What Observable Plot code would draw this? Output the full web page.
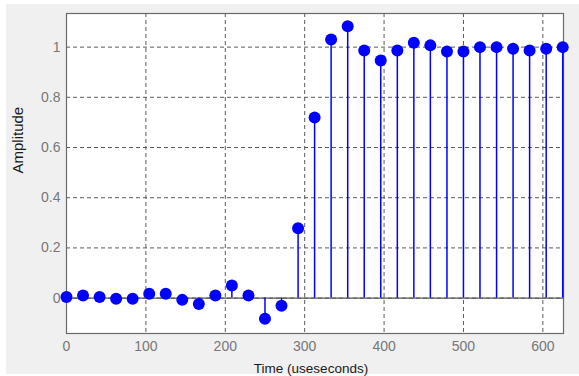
<!DOCTYPE html>
<html>
<head>
<meta charset="utf-8">
<script src="https://cdn.jsdelivr.net/npm/d3@7"></script>
<script src="https://cdn.jsdelivr.net/npm/@observablehq/plot@0.6"></script>
<style>
  html, body { margin: 0; padding: 0; background: #ffffff; }
  #wrap { position: relative; width: 579px; height: 376px; }
  #bg { position: absolute; left: 6px; top: 4px; right: 0px; bottom: 2px; background: #f0f0f0; }
  #chart { position: absolute; left: 0; top: 0; }
  #chart svg { background: transparent; font-family: "Liberation Sans", Arial, sans-serif; }
</style>
</head>
<body>
<div id="wrap"><div id="bg"></div><div id="chart"></div></div>
<script>
// Sample times (microseconds)
const times = [0, 20.8, 41.7, 62.5, 83.3, 104.2, 125, 145.8, 166.7, 187.5, 208.3,
  229.2, 250, 270.8, 291.7, 312.5, 333.3, 354.2, 375, 395.8, 416.7, 437.5,
  458.3, 479.2, 500, 520.8, 541.7, 562.5, 583.3, 604.2, 625];
// Amplitudes
const amplitudes = [0.004, 0.01, 0.004, -0.003, -0.003, 0.017, 0.017, -0.007, -0.023,
  0.01, 0.05, 0.01, -0.082, -0.03, 0.278, 0.72, 1.03, 1.083, 0.987, 0.947, 0.987,
  1.017, 1.007, 0.983, 0.983, 1.0, 1.0, 0.994, 0.987, 0.994, 1.0];
// Tick labels
const xTicks = [0, 100, 200, 300, 400, 500, 600];
const yTicks = [0, 0.2, 0.4, 0.6, 0.8, 1];
const xLabel = "Time (useseconds)";
const yLabel = "Amplitude";

const data = times.map((t, i) => ({t, a: amplitudes[i]}));

const chart = Plot.plot({
  width: 579,
  height: 376,
  marginLeft: 66,
  marginRight: 16,
  marginTop: 13,
  marginBottom: 43,
  style: {background: "transparent", fontFamily: "Liberation Sans, Arial, sans-serif"},
  x: {domain: [0, 626]},
  y: {domain: [-0.141, 1.134]},
  marks: [
    Plot.frame({fill: "white", stroke: null}),
    Plot.gridX(xTicks, {stroke: "#5a5a5a", strokeOpacity: 1, strokeDasharray: "4,3"}),
    Plot.gridY(yTicks, {stroke: "#5a5a5a", strokeOpacity: 1, strokeDasharray: "4,3"}),
    Plot.frame({stroke: "#6a6a6a", strokeWidth: 1.2}),
    Plot.axisX(xTicks, {tickSize: 0, tickPadding: 8, fontSize: 14, fill: "#777", label: null}),
    Plot.axisY(yTicks, {tickSize: 0, tickPadding: 6, fontSize: 14, fill: "#777", label: null,
      tickFormat: d => String(+d.toFixed(1))}),
    Plot.ruleY([0], {stroke: "#555", strokeWidth: 1.3}),
    Plot.ruleX(data, {x: "t", y1: 0, y2: "a", stroke: "#0000ff", strokeWidth: 1.5}),
    Plot.dot(data, {x: "t", y: "a", r: 6, fill: "#0000ff", stroke: null}),
    Plot.text([xLabel], {frameAnchor: "bottom", dy: 35, dx: -4, lineAnchor: "middle",
      fontSize: 13.5, fill: "#1a1a1a"}),
    Plot.text([yLabel], {frameAnchor: "left", dx: -48, rotate: -90, lineAnchor: "middle",
      fontSize: 15, fill: "#1a1a1a"})
  ]
});
document.getElementById("chart").appendChild(chart);
</script>
</body>
</html>
